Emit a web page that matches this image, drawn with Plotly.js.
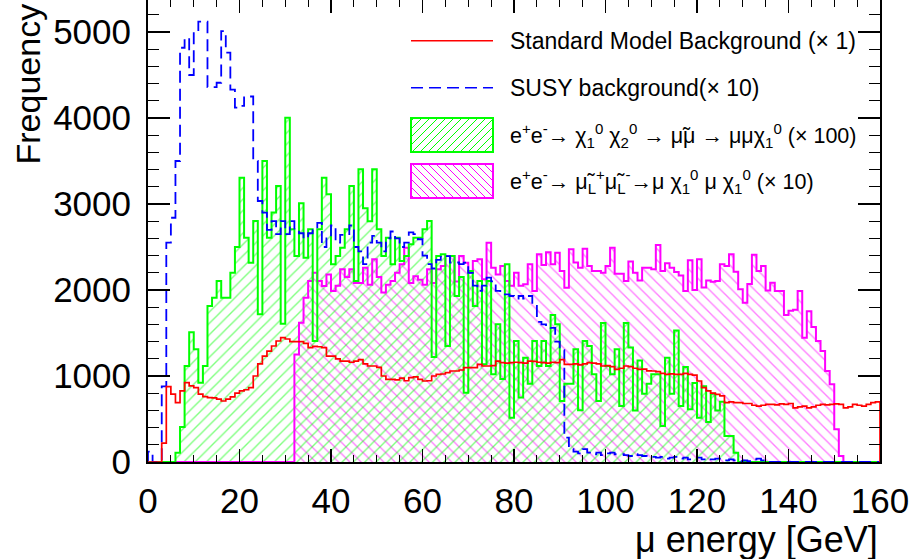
<!DOCTYPE html>
<html><head><meta charset="utf-8">
<script src="https://cdn.plot.ly/plotly-3.0.1.min.js"></script>
<style>html,body{margin:0;padding:0;background:#fff;} #chart{width:917px;height:559px;}</style>
</head><body><div id="chart"></div>
<script>
// ---- data (1 GeV bins, 0..160 GeV) ----
const binLow = 0;
const binWidth = 1;
const smBackground = [0,0,0,220,876,790,690,826,922,884,
 864,790,760,748,745,730,709,730,757,800,
 826,840,864,1000,1140,1232,1290,1349,1407,1446,
 1430,1400,1400,1400,1380,1330,1345,1340,1330,1232,
 1232,1200,1174,1174,1160,1174,1190,1140,1116,1116,
 1100,1000,961,961,955,975,945,980,990,960,
 942,945,1000,1020,1023,1040,1058,1058,1070,1097,
 1097,1097,1136,1116,1116,1120,1174,1155,1150,1155,
 1160,1155,1150,1174,1170,1160,1155,1150,1160,1155,
 1190,1136,1136,1140,1130,1140,1155,1150,1140,1116,
 1120,1110,1078,1090,1116,1110,1090,1078,1080,1060,
 1058,1050,1030,1020,1025,1020,1020,1030,1020,1010,
 942,864,826,800,787,768,690,700,690,690,
 680,680,660,650,660,670,670,665,675,670,
 680,630,640,650,630,640,660,670,665,670,
 675,670,630,640,670,660,650,670,690,700];
const susyBackground = [120,0,0,880,2550,2840,3500,4817,4930,4500,
 5010,5120,5120,4360,4360,4410,5010,4760,4330,4120,
 4140,4240,4250,3500,3035,2900,2700,2800,2650,2800,
 2650,2800,2700,2660,2600,2660,2700,2780,2500,2600,
 2750,2550,2640,2640,2750,2500,2450,2300,2550,2630,
 2550,2450,2600,2680,2600,2500,2550,2670,2650,2590,
 2400,2300,2250,2350,2400,2395,2318,2320,2300,2318,
 2200,2050,1990,2050,2143,2100,1990,1970,1950,1930,
 1900,1930,1900,1930,1814,1630,1600,1580,1560,1400,
 1300,283,150,120,100,150,110,90,110,80,
 100,110,90,90,80,70,90,80,70,60,
 60,50,60,40,50,60,40,50,30,40,
 50,30,40,30,40,30,20,30,20,10,
 20,10,30,40,20,0,0,0,0,0,
 0,0,0,0,0,0,0,0,0,0,
 0,0,0,0,0,0,0,0,0,0];
const neutralinoSignal = [0,0,0,0,0,0,108,407,1116,1510,
 1310,922,1116,1814,1910,2105,1910,1910,2200,2500,
 3305,2608,2318,2802,1717,3500,2608,2900,3209,1608,
 4003,2705,2395,3008,2376,2705,1407,2705,3305,3112,
 2298,2395,2492,2705,3209,2105,3403,2950,2800,3403,
 2705,2395,2608,2298,2608,2337,2395,2531,2608,2608,
 2705,2802,1220,2395,2415,1349,2395,1930,2150,806,
 2220,1814,2105,1136,2105,1020,1601,965,2298,515,
 1407,750,1213,910,1407,1116,1407,1116,1709,1601,
 709,910,910,1310,601,1407,1350,1020,709,1616,
 1116,1020,1310,650,1616,1330,600,1180,794,910,
 1020,1020,419,1213,794,1530,650,1105,612,920,
 515,880,465,794,600,700,302,302,108,0,
 0,0,0,0,0,0,0,0,0,0,
 0,0,0,0,0,0,0,0,0,0,
 0,0,0,0,0,0,0,0,0,0];
const smuonSignal = [0,0,0,0,0,0,0,0,0,0,
 0,0,0,0,0,0,0,0,0,0,
 0,0,0,0,0,0,0,0,0,0,
 0,0,1250,1620,1910,2105,2200,2105,2047,2180,
 1988,2050,2240,2150,2240,2080,2080,2260,2060,2357,
 2150,1970,2060,2105,2200,2298,2492,2080,2160,2120,
 2060,2240,2080,2240,2280,2395,2395,2100,2395,2318,
 2200,2337,2357,2124,2550,2260,2180,2280,2105,2050,
 2200,2050,2066,2298,1988,2415,2290,2440,2300,2434,
 2221,2027,2473,2320,2260,2480,2280,2221,2221,2201,
 2280,2492,2190,2190,2105,2330,2201,2110,2260,2260,
 2240,2523,2221,2310,2260,2210,2170,1988,2345,2000,
 2357,2030,2110,2095,2105,2298,2280,2415,2213,2008,
 1852,2070,2410,2220,2280,1995,2085,1988,1988,1709,
 1760,1770,1988,1446,1752,1570,1407,1290,1058,903,
 380,70,0,0,0,0,0,0,0,0];
const xTickVals = [0,20,40,60,80,100,120,140,160];
const xTickText = ['0','20','40','60','80','100','120','140','160'];
const yTickVals = [0,1000,2000,3000,4000,5000];
const yTickText = ['0','1000','2000','3000','4000','5000'];
const legendLabels = [
 'Standard Model Background (× 1)',
 'SUSY background(× 10)',
 'e<sup>+</sup>e<sup>-</sup>→ χ<sub>1</sub><sup>0</sup> χ<sub>2</sub><sup>0</sup> → μ̃μ → μμχ<sub>1</sub><sup>0</sup> (× 100)',
 'e<sup>+</sup>e<sup>-</sup>→ μ̃<sub>L</sub><sup>+</sup>μ̃<sub>L</sub><sup>-</sup>→μ χ<sub>1</sub><sup>0</sup> μ χ<sub>1</sub><sup>0</sup> (× 10)'
];
const legendFontSizes = [23, 23, 21.5, 21.5];
const xTitle = 'μ energy [GeV]';
const yTitle = 'Frequency';

// ---- helpers ----
const FONT = 'Liberation Sans, Arial, Helvetica, sans-serif';
const GREEN = '#00ff00', MAGENTA = '#ff00ff', RED = '#ff0000', BLUE = '#0000ff';
const centers = smBackground.map((_, i) => binLow + (i + 0.5) * binWidth);

function stepLine(vals) {
  const xs = [binLow], ys = [0];
  vals.forEach((v, i) => { xs.push(binLow + i * binWidth); ys.push(v); });
  xs.push(binLow + vals.length * binWidth); ys.push(vals[vals.length - 1]);
  xs.push(binLow + vals.length * binWidth); ys.push(0);
  return {xs, ys};
}

function hatchBar(vals, shape, color) {
  return {
    type: 'bar', x: centers, y: vals, width: binWidth,
    marker: {color: 'rgba(0,0,0,0)', line: {width: 0},
      pattern: {shape: shape, fgcolor: color, bgcolor: 'rgba(0,0,0,0)', fillmode: 'overlay', size: 8, solidity: 0.17}},
    hoverinfo: 'skip', showlegend: false
  };
}
function outline(vals, color, width, dash) {
  const s = stepLine(vals);
  return {type: 'scatter', mode: 'lines', x: s.xs, y: s.ys,
    line: {shape: 'hv', color: color, width: width, dash: dash || 'solid'},
    hoverinfo: 'skip', showlegend: false};
}

const traces = [
  hatchBar(smuonSignal, '\\', MAGENTA),
  hatchBar(neutralinoSignal, '/', GREEN),
  outline(smuonSignal, MAGENTA, 2),
  outline(neutralinoSignal, GREEN, 2),
  outline(susyBackground, BLUE, 1.8, '12px,6px'),
  outline(smBackground, RED, 1.7)
];

// ---- legend drawn by hand (ROOT style) ----
const PL = 148, PW = 732, PT = 0, PH = 462;
const px = x => (x - PL) / PW;
const py = y => (PT + PH - y) / PH;
const shapes = [];
function seg(x0, y0, x1, y1, color, width, dash) {
  shapes.push({type: 'line', xref: 'paper', yref: 'paper', x0: px(x0), y0: py(y0), x1: px(x1), y1: py(y1),
    line: {color: color, width: width, dash: dash || 'solid'}, layer: 'above'});
}
function hatchBox(x0, y0, x1, y1, dir, color) {
  const H = y1 - y0, step = 8;
  for (let a = x0 - H + 3; a < x1; a += step) {
    const tmin = Math.max(0, x0 - a), tmax = Math.min(H, x1 - a);
    if (tmax <= tmin) continue;
    if (dir === '/') seg(a + tmin, y1 - tmin, a + tmax, y1 - tmax, color, 1);
    else seg(a + tmin, y0 + tmin, a + tmax, y0 + tmax, color, 1);
  }
  shapes.push({type: 'rect', xref: 'paper', yref: 'paper', x0: px(x0), y0: py(y0), x1: px(x1), y1: py(y1),
    line: {color: color, width: 2}, fillcolor: 'rgba(0,0,0,0)', layer: 'above'});
}
const legX0 = 411, legX1 = 493;
const legRows = [40.7, 87.7, 135, 181];
seg(legX0, legRows[0], legX1, legRows[0], RED, 1.5);
seg(legX0, legRows[1], legX1, legRows[1], BLUE, 1.5, '12px,6px');
hatchBox(legX0, 118, legX1, 152, '/', GREEN);
hatchBox(legX0, 164, legX1, 198, '\\', MAGENTA);

const annotations = legendLabels.map((t, i) => ({
  xref: 'paper', yref: 'paper', x: px(508), y: py(legRows[i]), xanchor: 'left', yanchor: 'middle',
  text: t, showarrow: false, font: {family: FONT, size: legendFontSizes[i], color: '#000'}
}));
annotations.push({xref: 'paper', yref: 'paper', x: 1, y: py(539), xanchor: 'right', yanchor: 'middle',
  text: xTitle, showarrow: false, font: {family: FONT, size: 36, color: '#000'}});
annotations.push({xref: 'paper', yref: 'paper', x: px(28), y: py(2), xanchor: 'center', yanchor: 'top',
  text: yTitle, textangle: -90, showarrow: false, font: {family: FONT, size: 34, color: '#000'}});

const layout = {
  width: 917, height: 559,
  margin: {l: PL, r: 917 - PL - PW, t: PT, b: 559 - PT - PH, pad: 0},
  paper_bgcolor: '#fff', plot_bgcolor: '#fff',
  barmode: 'overlay', bargap: 0, showlegend: false,
  font: {family: FONT, color: '#000'},
  xaxis: {range: [0, 160], tickmode: 'array', tickvals: xTickVals, ticktext: xTickText,
    ticks: 'inside', ticklen: 13, tickwidth: 1.5, tickcolor: '#000',
    minor: {dtick: 5, tick0: 0, ticks: 'inside', ticklen: 7, tickwidth: 1.2, tickcolor: '#000', showgrid: false},
    showline: true, linewidth: 2, linecolor: '#000', mirror: 'allticks',
    showgrid: false, zeroline: false, ticklabelstandoff: 7,
    tickfont: {family: FONT, size: 35, color: '#000'}},
  yaxis: {range: [0, 5372], tickmode: 'array', tickvals: yTickVals, ticktext: yTickText,
    ticks: 'inside', ticklen: 22, tickwidth: 1.5, tickcolor: '#000',
    minor: {dtick: 200, tick0: 0, ticks: 'inside', ticklen: 11, tickwidth: 1.2, tickcolor: '#000', showgrid: false},
    showline: true, linewidth: 2, linecolor: '#000', mirror: 'allticks',
    showgrid: false, zeroline: false, ticklabelstandoff: 8,
    tickfont: {family: FONT, size: 35, color: '#000'}},
  shapes: shapes,
  annotations: annotations
};
Plotly.newPlot('chart', traces, layout, {staticPlot: true, displayModeBar: false});
</script>
</body></html>
